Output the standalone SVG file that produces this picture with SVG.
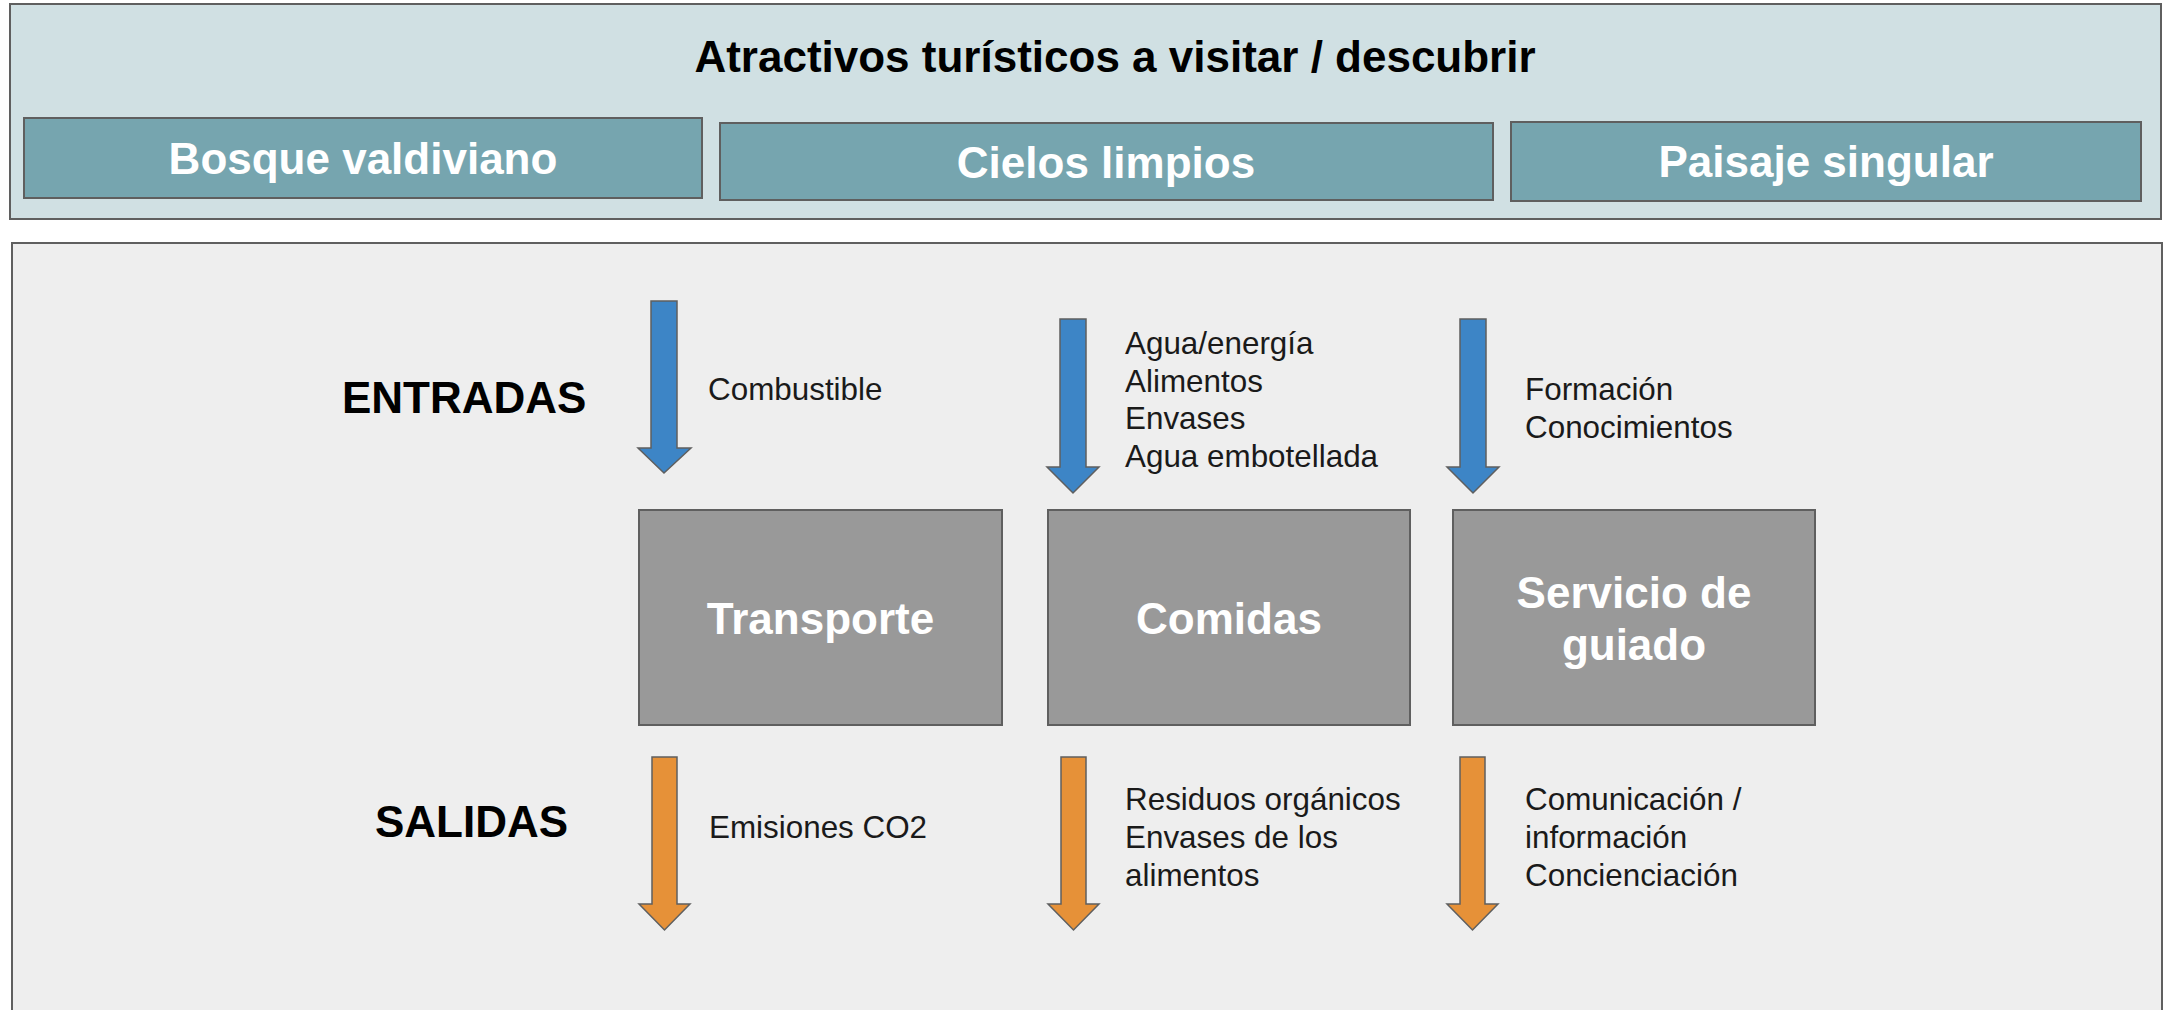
<svg xmlns="http://www.w3.org/2000/svg" width="2169" height="1010" viewBox="0 0 2169 1010">
<style>
  .frame { stroke: #5f5f5f; stroke-width: 2; }
  .top { fill: #d0e0e3; }
  .attr { fill: #76a5af; }
  .low { fill: #eeeeee; }
  .proc { fill: #999999; }
  .in { fill: #3d85c6; stroke: #5f5f5f; stroke-width: 1.5; }
  .out { fill: #e69138; stroke: #5f5f5f; stroke-width: 1.5; }
  .bw { font-family: "Liberation Sans", Arial, sans-serif; font-weight: bold; font-size: 44px; fill: #ffffff; text-anchor: middle; }
  .bk { font-family: "Liberation Sans", Arial, sans-serif; font-weight: bold; font-size: 44px; fill: #000000; }
  .sm { font-family: "Liberation Sans", Arial, sans-serif; font-size: 31.4px; fill: #1a1a1a; }
</style>
<rect x="0" y="0" width="2169" height="1010" fill="#ffffff"/>
<g id="atractivos">
  <rect class="frame top" x="10" y="4" width="2151" height="215"/>
  <text class="bk" x="1115" y="72" text-anchor="middle">Atractivos turísticos a visitar / descubrir</text>
</g>
<g id="bosque">
  <rect class="frame attr" x="24" y="118" width="678" height="80"/>
  <text class="bw" x="363" y="174">Bosque valdiviano</text>
</g>
<g id="cielos">
  <rect class="frame attr" x="720" y="123" width="773" height="77"/>
  <text class="bw" x="1106" y="178">Cielos limpios</text>
</g>
<g id="paisaje">
  <rect class="frame attr" x="1511" y="122" width="630" height="79"/>
  <text class="bw" x="1826" y="177">Paisaje singular</text>
</g>
<g id="proceso">
  <rect class="frame low" x="12" y="243" width="2150" height="780"/>
  <text class="bk" x="342" y="413">ENTRADAS</text>
  <text class="bk" x="375" y="837">SALIDAS</text>
</g>
<g id="transporte">
  <rect class="frame proc" x="639" y="510" width="363" height="215"/>
  <text class="bw" x="820.5" y="634">Transporte</text>
</g>
<g id="comidas">
  <rect class="frame proc" x="1048" y="510" width="362" height="215"/>
  <text class="bw" x="1229" y="634">Comidas</text>
</g>
<g id="guiado">
  <rect class="frame proc" x="1453" y="510" width="362" height="215"/>
  <text class="bw" x="1634" y="608">Servicio de</text>
  <text class="bw" x="1634" y="660">guiado</text>
</g>
<g id="connectors">
  <path class="in" d="M651,301 H677 V448 H691 L664,473 L638,448 H651 Z"/>
  <path class="in" d="M1060,319 H1086 V467 H1099 L1073,493 L1047,467 H1060 Z"/>
  <path class="in" d="M1460,319 H1486 V467 H1499 L1473,493 L1447,467 H1460 Z"/>
  <path class="out" d="M652,757 H677 V904 H690 L664.5,930 L639,904 H652 Z"/>
  <path class="out" d="M1061,757 H1086 V904 H1099 L1073.5,930 L1048,904 H1061 Z"/>
  <path class="out" d="M1460,757 H1485 V904 H1498 L1472.5,930 L1447,904 H1460 Z"/>
</g>
<g id="labels">
  <text class="sm" x="708" y="400">Combustible</text>
  <text class="sm" x="1125" y="354">Agua/energía</text>
  <text class="sm" x="1125" y="391.5">Alimentos</text>
  <text class="sm" x="1125" y="429">Envases</text>
  <text class="sm" x="1125" y="466.5">Agua embotellada</text>
  <text class="sm" x="1525" y="400">Formación</text>
  <text class="sm" x="1525" y="438">Conocimientos</text>
  <text class="sm" x="709" y="838">Emisiones CO2</text>
  <text class="sm" x="1125" y="810">Residuos orgánicos</text>
  <text class="sm" x="1125" y="848">Envases de los</text>
  <text class="sm" x="1125" y="886">alimentos</text>
  <text class="sm" x="1525" y="810">Comunicación /</text>
  <text class="sm" x="1525" y="848">información</text>
  <text class="sm" x="1525" y="886">Concienciación</text>
</g>
</svg>
